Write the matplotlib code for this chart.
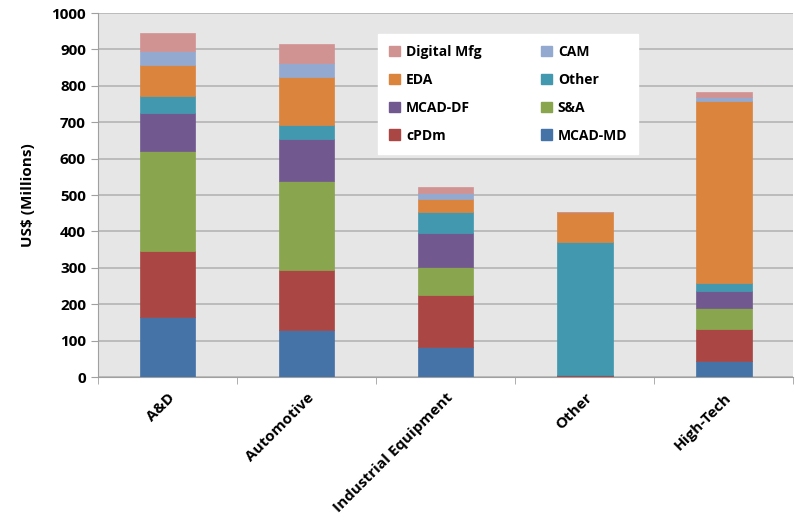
import numpy as np
import matplotlib
matplotlib.use("Agg")
import matplotlib.pyplot as plt
from matplotlib.patches import Patch

categories = ["A&D", "Automotive", "Industrial Equipment", "Other", "High-Tech"]

# stacked bottom to top
mcad_md = [165, 129, 82, 3, 45]
cpdm = [181, 165, 142, 2, 86]
s_and_a = [275, 244, 77, 0, 59]
mcad_df = [104, 116, 95, 0, 46]
other = [47, 38, 56, 367, 23]
eda = [85, 132, 36, 80, 498]
cam = [38, 39, 17, 0, 11]
digital_mfg = [50, 52, 17, 1, 14]

series = [
    ("MCAD-MD", mcad_md, "#4572A7"),
    ("cPDm", cpdm, "#AA4643"),
    ("S&A", s_and_a, "#89A54E"),
    ("MCAD-DF", mcad_df, "#71588F"),
    ("Other", other, "#4198AF"),
    ("EDA", eda, "#DB843D"),
    ("CAM", cam, "#93A9CF"),
    ("Digital Mfg", digital_mfg, "#D19392"),
]

plt.rcParams["font.family"] = ["Open Sans", "DejaVu Sans"]
plt.rcParams["font.weight"] = "bold"

fig = plt.figure(figsize=(7.95, 5.31), dpi=100)
ax = fig.add_axes([0.123, 0.29, 0.875, 0.6855])
ax.set_facecolor("#e6e6e6")

x = np.arange(len(categories))
bottom = np.zeros(len(categories))
colors = {}
for name, vals, color in series:
    ax.bar(x, vals, width=0.4, bottom=bottom, color=color,
           edgecolor=color, linewidth=0.5, zorder=3)
    bottom += np.array(vals)
    colors[name] = color

ax.set_xlim(-0.5, 4.5)
ax.set_ylim(0, 1000)
ax.set_yticks(range(0, 1001, 100))
ax.yaxis.grid(True, color="#b4b4b4", linewidth=1.2, zorder=0)
ax.set_ylabel("US$ (Millions)", fontsize=11, fontweight="bold", labelpad=12)

ax.set_xticks(x)
ax.set_xticklabels(categories, rotation=45, ha="right", rotation_mode="anchor",
                   fontsize=11, fontweight="bold")
ax.set_xticks(np.arange(-0.5, 4.6, 1), minor=True)
ax.tick_params(axis="x", which="major", length=0, pad=10)
ax.tick_params(axis="x", which="minor", length=5, color="#a0a0a0")
ax.tick_params(axis="y", length=5, color="#a0a0a0", labelsize=11)

for side in ["top", "right"]:
    ax.spines[side].set_visible(False)
for side in ["left", "bottom"]:
    ax.spines[side].set_color("#a0a0a0")

order = ["Digital Mfg", "EDA", "MCAD-DF", "cPDm", "CAM", "Other", "S&A", "MCAD-MD"]
handles = [Patch(facecolor=colors[n], edgecolor=colors[n]) for n in order]
leg = ax.legend(handles, order, ncol=2, loc="upper left",
                bbox_to_anchor=(0.393, 0.962), frameon=True, fancybox=False,
                edgecolor="white", facecolor="white", framealpha=1,
                prop={"size": 10, "weight": "bold"}, handlelength=0.8,
                handleheight=0.8, handletextpad=0.4, columnspacing=4.3,
                labelspacing=1.0, borderpad=0.8)
leg.set_zorder(5)

fig.savefig("out.png", dpi=100)
